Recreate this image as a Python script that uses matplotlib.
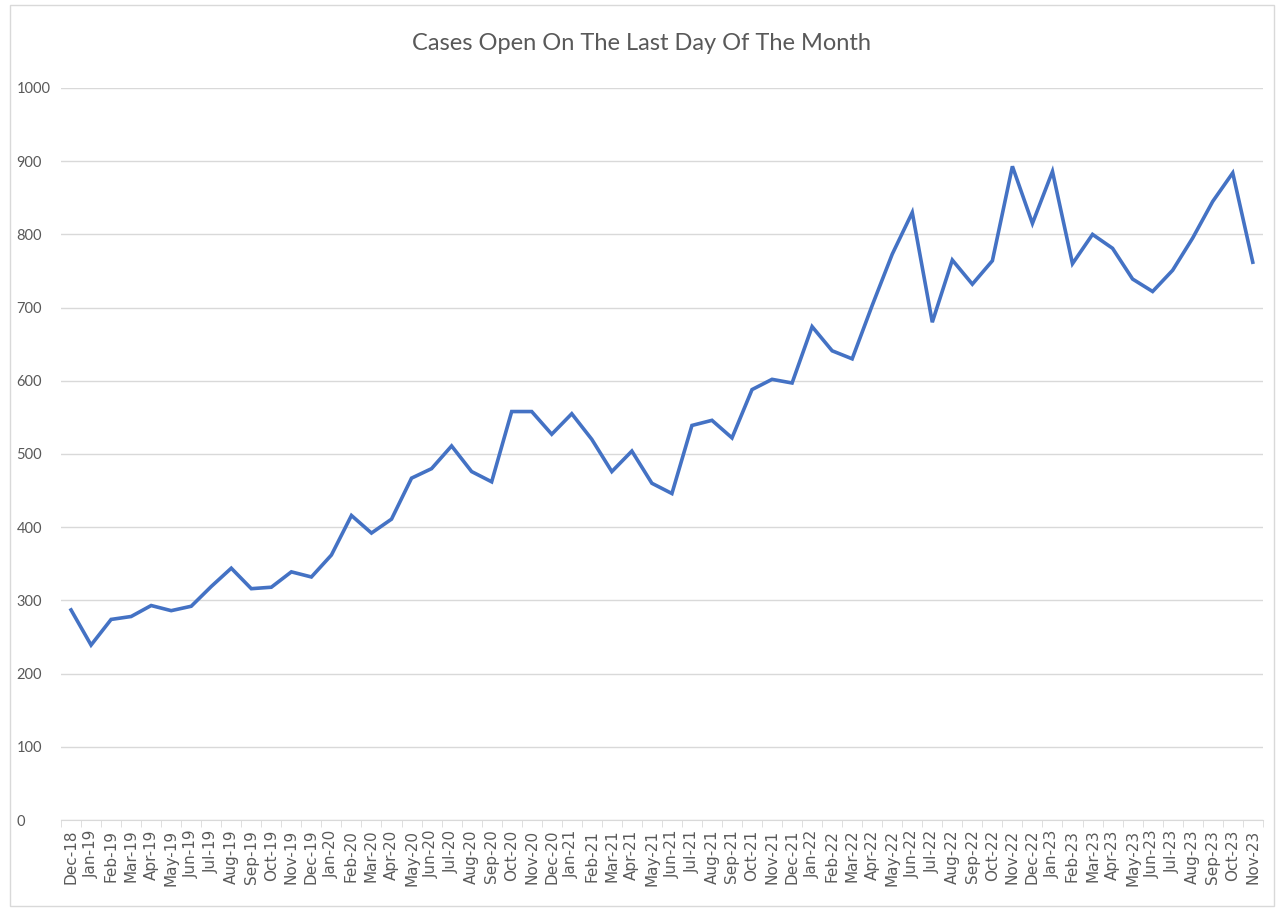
import matplotlib.pyplot as plt
from matplotlib.patches import Rectangle

months = ["Dec-18", "Jan-19", "Feb-19", "Mar-19", "Apr-19", "May-19", "Jun-19", "Jul-19",
          "Aug-19", "Sep-19", "Oct-19", "Nov-19", "Dec-19", "Jan-20", "Feb-20", "Mar-20",
          "Apr-20", "May-20", "Jun-20", "Jul-20", "Aug-20", "Sep-20", "Oct-20", "Nov-20",
          "Dec-20", "Jan-21", "Feb-21", "Mar-21", "Apr-21", "May-21", "Jun-21", "Jul-21",
          "Aug-21", "Sep-21", "Oct-21", "Nov-21", "Dec-21", "Jan-22", "Feb-22", "Mar-22",
          "Apr-22", "May-22", "Jun-22", "Jul-22", "Aug-22", "Sep-22", "Oct-22", "Nov-22",
          "Dec-22", "Jan-23", "Feb-23", "Mar-23", "Apr-23", "May-23", "Jun-23", "Jul-23",
          "Aug-23", "Sep-23", "Oct-23", "Nov-23"]
open_cases = [287, 239, 274, 278, 293, 286, 292, 319,
              344, 316, 318, 339, 332, 362, 416, 392,
              411, 467, 480, 511, 476, 462, 558, 558,
              527, 555, 520, 476, 504, 460, 446, 539,
              546, 522, 588, 602, 597, 674, 641, 630,
              703, 773, 830, 680, 765, 732, 764, 893,
              815, 886, 760, 800, 781, 739, 722, 751,
              795, 845, 884, 762]
y_ticks = list(range(0, 1001, 100))

fig = plt.figure(figsize=(12.82, 9.10), dpi=100)
ax = fig.add_axes([0.0476, 0.0989, 0.9374, 0.8044])

x = list(range(len(months)))
ax.plot(x, open_cases, color="#4472C4", linewidth=2.6, solid_joinstyle="miter")

ax.set_xlim(-0.5, len(months) - 0.5)
ax.set_ylim(0, 1000)
ax.set_yticks(y_ticks)
ax.set_yticklabels([str(v) for v in y_ticks], fontsize=10.5, color="#595959", family="Lato")
ax.set_xticks(x)
ax.set_xticklabels(months, rotation=90, fontsize=11, color="#595959")
ax.set_xticks([i - 0.5 for i in range(len(months) + 1)], minor=True)
ax.tick_params(axis="x", which="major", length=0, pad=7)
ax.tick_params(axis="x", which="minor", length=5, color="#d9d9d9")
ax.tick_params(axis="y", length=0, pad=32)
for lbl in ax.get_yticklabels():
    lbl.set_horizontalalignment("left")

ax.grid(axis="y", color="#d9d9d9", linewidth=1)
ax.set_axisbelow(True)
for s in ["top", "right", "left"]:
    ax.spines[s].set_visible(False)
ax.spines["bottom"].set_color("#d9d9d9")

fig.text(0.5, 0.952, "Cases Open On The Last Day Of The Month", ha="center", va="center",
         fontsize=17, color="#595959", family="Lato")

fig.patches.append(Rectangle((0.008, 0.004), 0.986, 0.99, transform=fig.transFigure,
                             fill=False, edgecolor="#d9d9d9", linewidth=1))

fig.savefig("out.png", dpi=100)
